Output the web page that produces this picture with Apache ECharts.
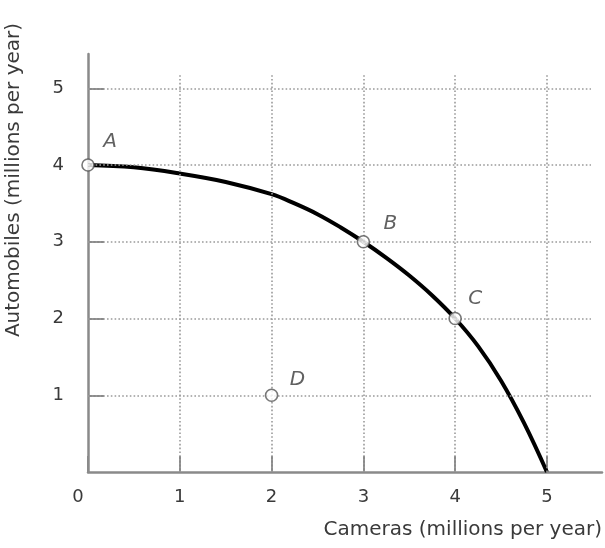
<!DOCTYPE html>
<html>
<head>
<meta charset="utf-8">
<script src="https://cdn.jsdelivr.net/npm/echarts@6/dist/echarts.min.js"></script>
<style>
html,body{margin:0;padding:0;background:#fff;}
#chart{width:605px;height:548px;}
</style>
</head>
<body>
<div id="chart"></div>
<script>
// ---- data ----
const cameras      = [0, 0.5, 1, 1.5, 2, 2.25, 2.5, 2.75, 3, 3.25, 3.5, 3.75, 4, 4.25, 4.5, 4.75, 5];
const automobiles  = [4, 3.97, 3.89, 3.78, 3.62, 3.5, 3.36, 3.19, 3, 2.79, 2.56, 2.3, 2, 1.64, 1.19, 0.64, 0];
const pointNames   = ['A', 'B', 'C', 'D'];
const pointCameras = [0, 3, 4, 2];
const pointAutos   = [4, 3, 2, 1];
const xTicks = [0, 1, 2, 3, 4, 5];
const yTicks = [1, 2, 3, 4, 5];
const xTitle = 'Cameras (millions per year)';
const yTitle = 'Automobiles (millions per year)';

// ---- styling ----
const FONT = '"DejaVu Sans"';
const TXT = '#3a3a3a';
const AXIS = '#8a8a8a';
const GRIDC = '#9a9a9a';
const xMax = 5.6, yMax = 5.447;
const hGridEnd = 5.48, vGridEnd = 5.2;
const labelOffsets = [[22, -23], [27, -18], [20, -20], [26, -15]];

const curveData = cameras.map((c, i) => [c, automobiles[i]]);
const pointData = pointNames.map((n, i) => ({
  value: [pointCameras[i], pointAutos[i]],
  name: n,
  label: { offset: labelOffsets[i] }
}));

const gridLines = [];
yTicks.forEach(v => gridLines.push([{ coord: [0, v] }, { coord: [hGridEnd, v] }]));
xTicks.filter(v => v > 0).forEach(v => gridLines.push([{ coord: [v, 0] }, { coord: [v, vGridEnd] }]));

const chart = echarts.init(document.getElementById('chart'), null, { renderer: 'canvas' });
chart.setOption({
  animation: false,
  backgroundColor: '#ffffff',
  grid: { left: 88, right: 3, top: 54, bottom: 76, containLabel: false, outerBoundsMode: 'none' },
  xAxis: {
    type: 'value', min: 0, max: xMax, interval: 1,
    name: xTitle, nameLocation: 'end', nameGap: 0,
    nameTextStyle: { fontFamily: FONT, fontSize: 20, color: TXT, align: 'right', verticalAlign: 'top', padding: [48, 0, 0, 0] },
    axisLine: { show: true, onZero: false, lineStyle: { color: AXIS, width: 2.5 } },
    axisTick: { show: true, inside: true, length: 16, customValues: xTicks, lineStyle: { color: AXIS, width: 2 } },
    axisLabel: {
      customValues: xTicks, margin: 16, fontFamily: FONT, fontSize: 18, color: TXT,
      formatter: v => v === 0 ? '{z|0}' : String(v),
      rich: { z: { fontFamily: FONT, fontSize: 18, color: TXT, padding: [0, 20, 0, 0] } }
    },
    splitLine: { show: false }
  },
  yAxis: {
    type: 'value', min: 0, max: yMax, interval: 1,
    name: yTitle, nameLocation: 'middle', nameGap: 64,
    nameTextStyle: { fontFamily: FONT, fontSize: 20, color: TXT, padding: [0, 0, 0, 166] },
    axisLine: { show: true, onZero: false, lineStyle: { color: AXIS, width: 2.5 } },
    axisTick: { show: true, inside: true, length: 16, customValues: yTicks, lineStyle: { color: AXIS, width: 2 } },
    axisLabel: { customValues: yTicks, margin: 24, fontFamily: FONT, fontSize: 18, color: TXT },
    splitLine: { show: false }
  },
  series: [
    {
      type: 'line', data: [], silent: true, z: 1,
      markLine: {
        silent: true, symbol: ['none', 'none'], label: { show: false },
        lineStyle: { color: GRIDC, width: 1.6, type: [1.6, 2.2] },
        data: gridLines
      }
    },
    {
      type: 'line', data: curveData, smooth: 0.4, showSymbol: false, z: 3,
      lineStyle: { color: '#000', width: 4 }
    },
    {
      type: 'scatter', data: pointData, z: 5,
      symbol: 'circle', symbolSize: 12,
      itemStyle: { color: '#fff', borderColor: '#555', borderWidth: 1.6 },
      label: {
        show: true, position: 'inside', formatter: p => p.name,
        fontFamily: FONT, fontStyle: 'italic', fontSize: 20, color: TXT
      }
    }
  ]
});
</script>
</body>
</html>
